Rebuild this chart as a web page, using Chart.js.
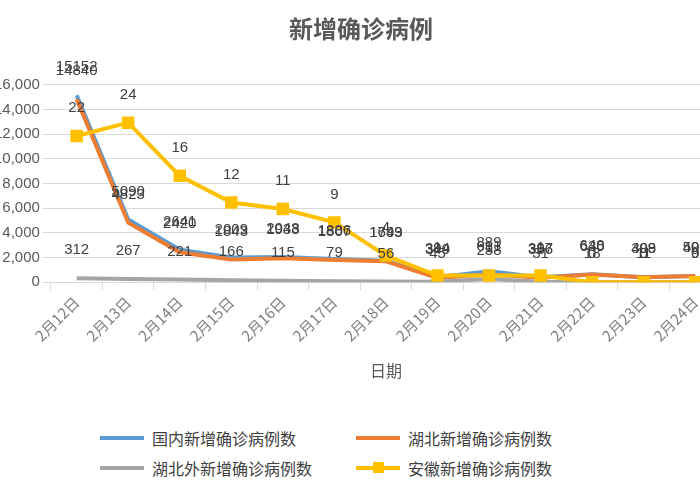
<!DOCTYPE html>
<html><head><meta charset="utf-8">
<script src="https://cdn.jsdelivr.net/npm/chart.js@4/dist/chart.umd.min.js"></script>
<style>
body{margin:0;background:#fff;overflow:hidden;font-family:"Noto Sans CJK SC",sans-serif;}
#wrap{position:absolute;left:-9px;top:0;width:740px;height:385px;}
.lg{position:absolute;font-size:16px;color:#404040;display:flex;align-items:center;}
.lg .ln{width:44px;height:4px;margin-right:8px;position:relative;}
.lg .sq{position:absolute;left:17px;top:-4px;width:11px;height:11px;background:#FFC000;}
</style></head><body>
<div id="wrap"><canvas id="c"></canvas></div>
<div class="lg" style="left:100px;top:426px"><span class="ln" style="background:#5B9BD5"></span>国内新增确诊病例数</div>
<div class="lg" style="left:356px;top:426px"><span class="ln" style="background:#ED7D31"></span>湖北新增确诊病例数</div>
<div class="lg" style="left:100px;top:456px"><span class="ln" style="background:#A5A5A5"></span>湖北外新增确诊病例数</div>
<div class="lg" style="left:356px;top:456px"><span class="ln" style="background:#FFC000"><span class="sq"></span></span>安徽新增确诊病例数</div>
<script>
const categories=["2月12日","2月13日","2月14日","2月15日","2月16日","2月17日","2月18日","2月19日","2月20日","2月21日","2月22日","2月23日","2月24日"];
const national=[15152,5090,2641,2009,2048,1886,1749,394,889,397,648,409,508];
const hubei=[14840,4823,2420,1843,1933,1807,1693,349,631,366,630,398,499];
const outsideHubei=[312,267,221,166,115,79,56,45,258,31,18,11,9];
const anhui=[22,24,16,12,11,9,4,1,1,1,0,0,0];
const labelPlugin={id:'lbl',afterDatasetsDraw(ch){const c=ch.ctx;c.save();c.font='15px "Liberation Sans", sans-serif';c.fillStyle='#404040';c.textAlign='center';c.textBaseline='middle';
ch.data.datasets.forEach((ds,i)=>{ch.getDatasetMeta(i).data.forEach((p,j)=>{c.fillText(String(ds.data[j]),p.x,p.y-28);});});c.restore();}};
new Chart(document.getElementById('c'),{type:'line',
data:{labels:categories,datasets:[
{label:'国内新增确诊病例数',data:national,borderColor:'#5B9BD5',borderWidth:4,pointRadius:0,yAxisID:'y',order:4},
{label:'湖北新增确诊病例数',data:hubei,borderColor:'#ED7D31',borderWidth:4,pointRadius:0,yAxisID:'y',order:3},
{label:'湖北外新增确诊病例数',data:outsideHubei,borderColor:'#A5A5A5',borderWidth:4,pointRadius:0,yAxisID:'y',order:2},
{label:'安徽新增确诊病例数',data:anhui,borderColor:'#FFC000',backgroundColor:'#FFC000',borderWidth:4,pointStyle:'rect',pointRadius:6,yAxisID:'y1',order:1}]},
options:{responsive:true,maintainAspectRatio:false,animation:false,
layout:{padding:0},
plugins:{legend:{display:false},tooltip:{enabled:false},
title:{display:true,text:'新增确诊病例',color:'#595959',font:{size:24,weight:'bold',family:'"Noto Sans CJK SC"'},padding:{top:14,bottom:42}}},
scales:{
x:{offset:true,grid:{offset:true,drawOnChartArea:false,color:'#D9D9D9',tickLength:8},border:{color:'#D9D9D9'},
ticks:{color:'#7F7F7F',font:{size:15,family:'"Noto Sans CJK SC"'},maxRotation:45,minRotation:45},
title:{display:true,text:'日期',color:'#595959',font:{size:16,family:'"Noto Sans CJK SC"'},padding:{top:14}}},
y:{min:0,max:16000,ticks:{stepSize:2000,color:'#595959',font:{size:15,family:'"Liberation Sans"'}},grid:{color:'#D9D9D9'},border:{display:false}},
y1:{display:false,min:0,max:29.7}}},
plugins:[labelPlugin]});
</script></body></html>
